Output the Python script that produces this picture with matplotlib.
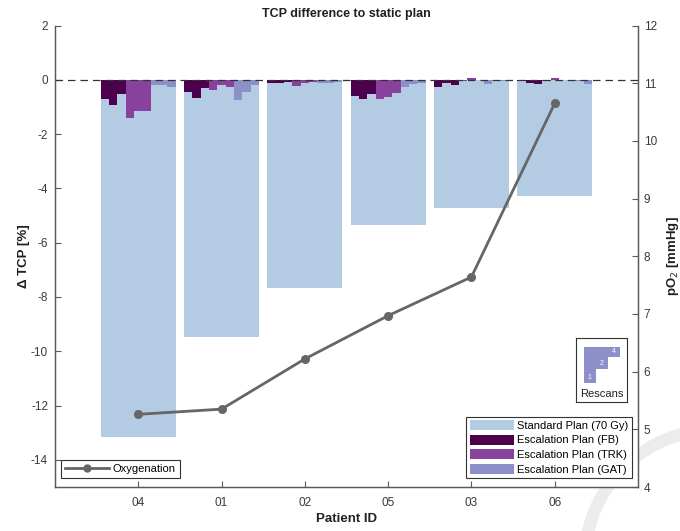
import matplotlib
matplotlib.use("Agg")
import matplotlib.pyplot as plt
from matplotlib.patches import Patch, Arc
from matplotlib.lines import Line2D

# ---------------- data ----------------
patients = ['04', '01', '02', '05', '03', '06']
standard = [-13.15, -9.47, -7.67, -5.36, -4.73, -4.29]
fb = [[-0.71, -0.92, -0.53],
      [-0.45, -0.67, -0.30],
      [-0.12, -0.10, -0.07],
      [-0.59, -0.69, -0.53],
      [-0.27, -0.12, -0.21],
      [-0.04, -0.10, -0.17]]
trk = [[-1.41, -1.14, -1.14],
       [-0.39, -0.21, -0.27],
       [-0.22, -0.10, -0.07],
       [-0.71, -0.65, -0.49],
       [-0.05, 0.07, -0.02],
       [-0.05, 0.07, -0.02]]
gat = [[-0.18, -0.18, -0.28],
       [-0.73, -0.45, -0.21],
       [-0.10, -0.10, -0.08],
       [-0.25, -0.16, -0.10],
       [-0.15, -0.05, -0.03],
       [-0.03, -0.05, -0.17]]
oxygen = [5.26, 5.35, 6.22, 6.97, 7.64, 10.65]
rescans = ['1', '2', '4']
rescan_depth = [-3.6, -2.2, -1.0]

left_ticks = [-14, -12, -10, -8, -6, -4, -2, 0, 2]
right_ticks = [4, 5, 6, 7, 8, 9, 10, 11, 12]

# ---------------- style ----------------
C_STD = '#b3cbe3'
C_FB = '#4d004b'
C_TRK = '#88419d'
C_GAT = '#8c8fc8'
C_LINE = '#666666'
C_AX = '#5a5a5a'
C_TXT = '#3a3a3a'

plt.rcParams['font.family'] = ['Liberation Sans', 'DejaVu Sans']
plt.rcParams['font.size'] = 8.5
plt.rcParams['axes.unicode_minus'] = False

W, H = 680, 531
fig = plt.figure(figsize=(W / 100, H / 100), dpi=100)
ax = fig.add_axes([55 / W, 1 - 487 / H, 583 / W, 461.5 / H])
ax2 = ax.twinx()

# standard plan bars
x = list(range(1, len(patients) + 1))
ax.bar(x, standard, width=0.9, color=C_STD, zorder=1)

# escalation sub-bars
sub_w = 0.1
for i, p in enumerate(x):
    for m, (vals, col) in enumerate([(fb, C_FB), (trk, C_TRK), (gat, C_GAT)]):
        for r in range(3):
            xs = p - 0.4 + (3 * m + r) * sub_w
            ax.bar(xs, vals[i][r], width=sub_w, color=col, linewidth=0, zorder=2)

ax.axhline(0, color='#333333', lw=0.9, ls=(0, (6, 4)), zorder=3)

ax.set_xlim(0, 7)
ax.set_ylim(-15, 2)
ax.set_xticks(x)
ax.set_xticklabels(patients)
ax.set_yticks(left_ticks)

ax2.plot(x, oxygen, color=C_LINE, lw=2, marker='o', ms=5.5, zorder=5)
ax2.set_ylim(4, 12)
ax2.set_yticks(right_ticks)

for a in (ax, ax2):
    a.spines['top'].set_visible(False)
    for s in a.spines.values():
        s.set_color(C_AX)
        s.set_linewidth(0.9)
    a.tick_params(direction='in', length=4.5, width=0.8, color=C_AX,
                  labelcolor=C_TXT, labelsize=8.5)
ax.tick_params(axis='x', pad=7)
ax.tick_params(axis='y', pad=5)
ax2.tick_params(axis='y', pad=4)

ax.set_title('TCP difference to static plan', fontsize=9, fontweight='bold',
             color='#202020', pad=6)
ax.set_xlabel('Patient ID', fontsize=9.5, fontweight='bold', color='#202020', labelpad=3)
ax.set_ylabel('Δ TCP [%]', fontsize=9.5, fontweight='bold', color='#202020', labelpad=1)
ax2.set_ylabel('pO$_2$ [mmHg]', fontsize=9.5, fontweight='bold', color='#202020',
               rotation=90, labelpad=6)

# legends
handles = [Patch(facecolor=C_STD, label='Standard Plan (70 Gy)'),
           Patch(facecolor=C_FB, label='Escalation Plan (FB)'),
           Patch(facecolor=C_TRK, label='Escalation Plan (TRK)'),
           Patch(facecolor=C_GAT, label='Escalation Plan (GAT)')]
leg1 = ax2.legend(handles=handles, loc='lower right',
                  bbox_to_anchor=(0.9897, 0.0195), borderaxespad=0,
                  fancybox=False, edgecolor='#333333', framealpha=1,
                  fontsize=8, handlelength=4.0, handleheight=1.0,
                  handletextpad=0.3, labelspacing=0.35, borderpad=0.3)
leg1.get_frame().set_linewidth(0.8)
ax2.add_artist(leg1)

h2 = [Line2D([0], [0], color=C_LINE, lw=2, marker='o', ms=5, label='Oxygenation')]
leg2 = ax2.legend(handles=h2, loc='lower left', bbox_to_anchor=(0.0103, 0.0195),
                  borderaxespad=0, fancybox=False, edgecolor='#333333',
                  framealpha=1, fontsize=8, handlelength=4.0,
                  handletextpad=0.3, borderpad=0.35)
leg2.get_frame().set_linewidth(0.8)

# rescans inset
axi = fig.add_axes([576 / W, 1 - 402 / H, 51 / W, 64 / H])
axi.set_xlim(0, 5.1)
axi.set_ylim(-5.5, 0.9)
xi = [1.4, 2.6, 3.8]
axi.bar(xi, rescan_depth, width=1.2, color=C_GAT, linewidth=0)
for xx, d, lab in zip(xi, rescan_depth, rescans):
    axi.text(xx - 0.05, d + 0.55, lab, color='white', fontsize=5,
             ha='center', va='center')
axi.text(2.55, -4.7, 'Rescans', fontsize=8, ha='center', va='center', color='#202020')
axi.set_xticks([])
axi.set_yticks([])
for s in axi.spines.values():
    s.set_color('#333333')
    s.set_linewidth(0.8)

# faint watermark arc
fig.patches.append(Arc((715 / W, 1 - 560 / H), 260 / W, 260 / H, theta1=95, theta2=175,
                       transform=fig.transFigure, color='#ececec', lw=9, zorder=-10))

fig.savefig('out.png', dpi=100)
